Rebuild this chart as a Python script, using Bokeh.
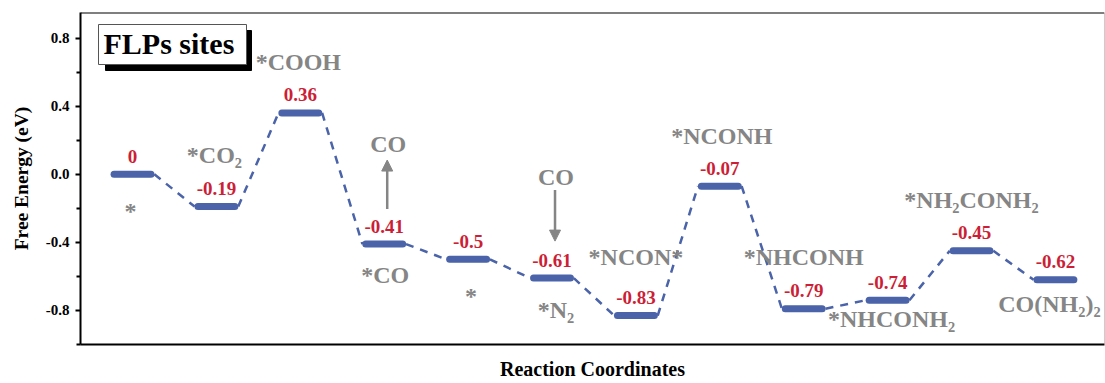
import numpy as np
from bokeh.plotting import figure
from bokeh.models import Range1d, FixedTicker, PrintfTickFormatter, Span, Arrow, NormalHead, ColumnDataSource
from bokeh.core.properties import value
from bokeh.embed import file_html
from bokeh.resources import INLINE

# Free-energy profile of urea synthesis on FLPs sites
steps = list(range(12))
energies = [0.0, -0.19, 0.36, -0.41, -0.5, -0.61, -0.83, -0.07, -0.79, -0.74, -0.45, -0.62]
energy_text = [f"{e:g}" for e in energies]
species = ["*", "*CO₂", "*COOH", "*CO", "*", "*N₂", "*NCON*", "*NCONH",
           "*NHCONH", "*NHCONH₂", "*NH₂CONH₂", "CO(NH₂)₂"]
gas_steps = [3, 5]            # CO released / CO adsorbed
gas_text = ["CO", "CO"]
y_ticks = [0.8, 0.4, 0.0, -0.4, -0.8]
y_minor = [0.6, 0.2, -0.2, -0.6, -1.0]

# label placement (pixel offsets from each level's centre)
species_dx = [-2, -2, -2, 1, 3, 4, 0, 2, 0, 4, 0, -6]
species_dy = [37, -52, -51, 31, 37, 32, -59, -50, -52, 19, -51, 24]

BLUE = "#4a63a9"
RED = "#cc1f37"
GREY = "#858585"
FONT = value("Liberation Serif")

X0, X1 = -0.62, 11.585
Y0, Y1 = -1.0, 0.95
FW, FH = 1024, 332
sx = FW / (X1 - X0)
sy = FH / (Y1 - Y0)

p = figure(width=1105, height=383, output_backend="svg", toolbar_location=None,
           x_range=Range1d(X0, X1), y_range=Range1d(Y0, Y1),
           min_border_left=80, min_border_right=1, min_border_top=12, min_border_bottom=39)
p.outline_line_color = None
p.xgrid.visible = False
p.ygrid.visible = False

# axes
p.yaxis.ticker = FixedTicker(ticks=y_ticks, minor_ticks=y_minor)
p.yaxis.formatter = PrintfTickFormatter(format="%.1f")
p.yaxis.axis_line_width = 2
p.yaxis.major_tick_line_width = 2
p.yaxis.minor_tick_line_width = 2
p.yaxis.major_tick_out = 5
p.yaxis.major_tick_in = 0
p.yaxis.minor_tick_out = 4
p.yaxis.minor_tick_in = 0
p.yaxis.major_label_standoff = 6
p.yaxis.major_label_text_font = "Liberation Serif"
p.yaxis.major_label_text_font_style = "bold"
p.yaxis.major_label_text_font_size = "15px"
p.yaxis.major_label_text_color = "black"
p.yaxis.axis_label = "Free Energy (eV)"
p.yaxis.axis_label_text_font = "Liberation Serif"
p.yaxis.axis_label_text_font_style = "bold"
p.yaxis.axis_label_text_font_size = "19.5px"
p.yaxis.axis_label_text_color = "black"
p.yaxis.axis_label_standoff = 11

p.xaxis.ticker = FixedTicker(ticks=[])
p.xaxis.axis_line_width = 2
p.xaxis.major_tick_out = 0
p.xaxis.minor_tick_out = 0
p.xaxis.axis_label = "Reaction Coordinates"
p.xaxis.axis_label_text_font = "Liberation Serif"
p.xaxis.axis_label_text_font_style = "bold"
p.xaxis.axis_label_text_font_size = "20px"
p.xaxis.axis_label_text_color = "black"
p.xaxis.axis_label_standoff = 13

p.add_layout(Span(location=Y1, dimension="width", line_color="black", line_width=2))
p.add_layout(Span(location=X1, dimension="height", line_color="#9a9a9a", line_width=1))

xs = np.array(steps, dtype=float)
es = np.array(energies)
half = 0.22

# dashed connectors between neighbouring levels
p.segment(x0=xs[:-1] + half + 0.04, y0=es[:-1], x1=xs[1:] - half - 0.04, y1=es[1:],
          line_color=BLUE, line_width=2.5, line_dash="8 7")

# energy levels
p.segment(x0=xs - half, y0=es, x1=xs + half, y1=es,
          line_color=BLUE, line_width=7, line_cap="round")

# energy values
p.text(x=xs, y=es, text=energy_text, y_offset=-18, text_align="center",
       text_baseline="middle", text_color=RED, text_font=FONT,
       text_font_style="bold", text_font_size="19px")

# species names
src = ColumnDataSource(dict(x=xs, y=es, t=species, dx=species_dx, dy=species_dy))
p.text(x="x", y="y", text="t", x_offset="dx", y_offset="dy", source=src,
       text_align="center", text_baseline="middle", text_color=GREY, text_font=FONT,
       text_font_style="bold", text_font_size="24px")

# gas-phase CO with arrows
gx = np.array(gas_steps, dtype=float)
ge = es[gas_steps]
p.text(x=gx, y=ge, text=gas_text, x_offset=4, y_offset=[-100, -101],
       text_align="center", text_baseline="middle", text_color=GREY, text_font=FONT,
       text_font_style="bold", text_font_size="24px")
for s, e, d in zip(gas_steps, ge, ["up", "down"]):
    ax = s + 3 / sx
    if d == "up":
        a, b = e + 35 / sy, e + 84 / sy
    else:
        a, b = e + 88 / sy, e + 37 / sy
    p.add_layout(Arrow(x_start=ax, y_start=a, x_end=ax, y_end=b,
                       line_color=GREY, line_width=2.5,
                       end=NormalHead(size=11, fill_color=GREY, line_color=GREY)))

# boxed title with drop shadow
def px(x):
    return X0 + x / sx

def py(y):
    return Y1 - y / sy

p.quad(left=px(25), right=px(171), top=py(18), bottom=py(58),
       fill_color="black", line_color="black")
p.quad(left=px(18), right=px(166), top=py(12), bottom=py(52),
       fill_color="white", line_color="#555555", line_width=1)
p.text(x=[px(23)], y=[py(31)], text=["FLPs sites"], text_align="left",
       text_baseline="middle", text_color="black", text_font=FONT,
       text_font_style="bold", text_font_size="30px")

open("out.html", "w").write(file_html(p, INLINE))
